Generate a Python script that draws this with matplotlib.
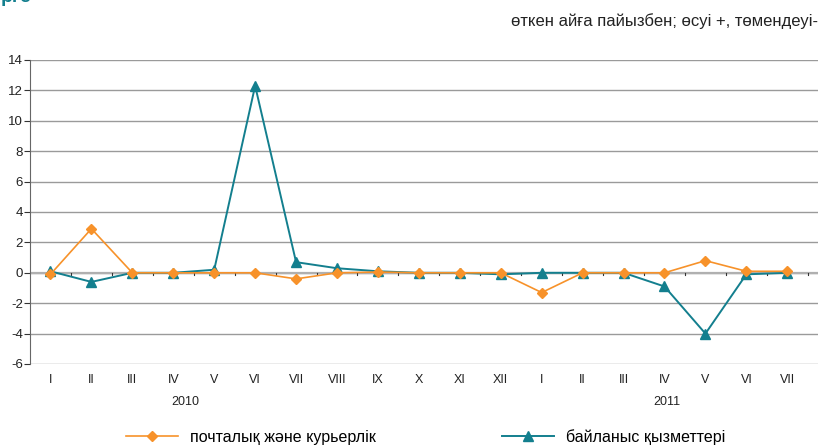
import matplotlib
matplotlib.use('Agg')
import matplotlib.pyplot as plt
import numpy as np

plt.rcParams['font.family'] = ['Liberation Sans', 'DejaVu Sans']
plt.rcParams['axes.unicode_minus'] = False

# Айлар (2010 I - 2011 VII)
months = ['I', 'II', 'III', 'IV', 'V', 'VI', 'VII', 'VIII', 'IX', 'X', 'XI', 'XII',
          'I', 'II', 'III', 'IV', 'V', 'VI', 'VII']
postal = [-0.1, 2.9, 0.0, 0.0, 0.0, 0.0, -0.4, 0.0, 0.05, 0.0, 0.0, 0.0,
          -1.3, 0.0, 0.0, 0.0, 0.8, 0.1, 0.1]
telecom = [0.1, -0.6, 0.0, 0.0, 0.2, 12.3, 0.7, 0.3, 0.1, 0.0, 0.0, -0.1,
           0.0, 0.0, 0.0, -0.9, -4.0, -0.1, 0.0]
years = ['2010', '2011']
postal_label = 'почталық және курьерлік'
telecom_label = 'байланыс қызметтері'
header = 'өткен айға пайызбен; өсуі +, төмендеуі-'

orange = '#F7922A'
teal = '#137F8E'

W, H = 823, 447
fig = plt.figure(figsize=(W / 100, H / 100), dpi=100)
ax = fig.add_axes([30 / W, 1 - 364 / H, (818 - 30) / W, (364 - 60) / H])

x = np.arange(len(months))
ax.set_xlim(-0.5, 18.75)
ax.set_ylim(-6, 14)
ax.set_yticks(np.arange(-6, 15, 2))
for v in np.arange(-6, 15, 2):
    ax.axhline(v, color='#9a9a9a', lw=1.0, zorder=0)
ax.axhline(0, color='#b0b0b0', lw=1.6, zorder=0)
# засечки на нулевой оси
for k in range(len(months)):
    ax.plot([k + 0.5, k + 0.5], [0, -0.12], color='#333333', lw=0.8, zorder=1)

ax.plot(x, postal, color=orange, lw=1.2, marker='D', ms=5.5, zorder=3,
        label=postal_label)
ax.plot(x, telecom, color=teal, lw=1.4, marker='^', ms=7, zorder=2,
        label=telecom_label)

ax.set_xticks(x)
ax.set_xticklabels(months, fontsize=9, color='#222222')
ax.tick_params(axis='x', length=0, pad=7)
ax.tick_params(axis='y', length=4, direction='out', labelsize=9.5,
               colors='#333333', labelcolor='#222222', pad=1)
for s in ['top', 'right', 'bottom']:
    ax.spines[s].set_visible(False)
ax.spines['left'].set_color('#666666')

ax.text(3.3, -8.5, years[0], ha='center', va='center', fontsize=9, color='#222222')
ax.text(15.07, -8.5, years[1], ha='center', va='center', fontsize=9, color='#222222')

fig.text(818 / W, 1 - 21 / H, header, ha='right', va='center', fontsize=12,
         color='#222222')
# обрезанный заголовок сверху слева
fig.text(1 / W, 1 - 2 / H, 'рге', ha='left', va='baseline', fontsize=14,
         fontweight='bold', color=teal)

leg = fig.legend(loc='center', bbox_to_anchor=(426 / W, 1 - 437 / H), ncol=2,
                 frameon=False, fontsize=11.5, handlelength=3.2, columnspacing=7.9,
                 handletextpad=0.8)

fig.savefig('out.png', dpi=100)
